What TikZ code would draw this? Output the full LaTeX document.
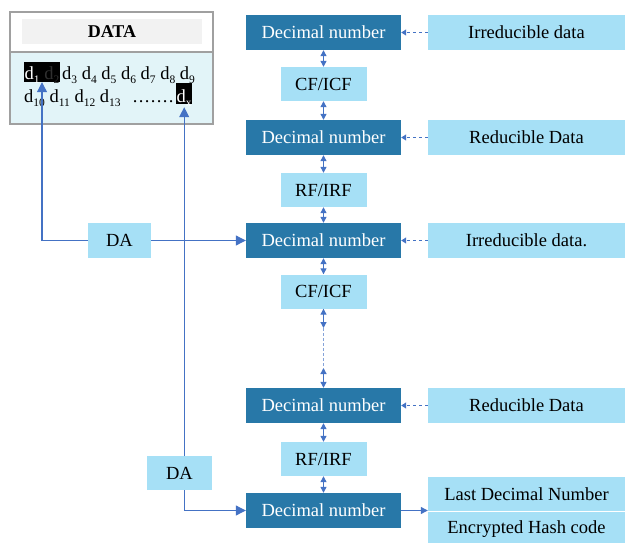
\documentclass[tikz,border=0pt]{standalone}
\usepackage{fontspec}
\setmainfont{Liberation Serif}
\usetikzlibrary{arrows.meta}

\definecolor{decblue}{RGB}{40,120,168}
\definecolor{lightcyan}{RGB}{166,224,246}
\definecolor{linkblue}{RGB}{68,114,196}
\definecolor{datafill}{RGB}{226,244,248}
\definecolor{headgray}{RGB}{242,242,242}
\definecolor{framegray}{RGB}{160,160,160}
\definecolor{hidden}{RGB}{48,48,48}

% indexed data element: d with a small lowered index
\newcommand{\dd}[1]{d\raisebox{-0.22em}{\fontsize{11.5}{12}\selectfont #1}}

\begin{document}
\begin{tikzpicture}[x=1pt,y=-1pt,
  every node/.style={inner sep=0pt, font=\fontsize{18.5}{22}\selectfont},
  decbox/.style={fill=decblue, text=white, minimum width=155pt, minimum height=35pt},
  opbox/.style={fill=lightcyan, minimum width=86pt, minimum height=34pt},
  srcbox/.style={fill=lightcyan, minimum width=197pt, minimum height=35pt},
  dabox/.style={fill=lightcyan, minimum height=35pt},
  hilite/.style={fill=black, text=white, inner xsep=0.5pt},
  dbl/.style={draw=linkblue, line width=1.2pt,
    {Triangle[length=6pt,width=6pt]}-{Triangle[length=6pt,width=6pt]}},
  feed/.style={draw=linkblue, line width=1.1pt, dash pattern=on 3pt off 3pt,
    -{Triangle[length=5pt,width=6pt]}},
  flow/.style={draw=linkblue, line width=1.1pt, -{Triangle[length=10pt,width=10pt]}},
  outflow/.style={draw=linkblue, line width=1.1pt, -{Triangle[length=7pt,width=7pt]}},
]
\useasboundingbox (0,0) rectangle (625,542);
\clip (0,0) rectangle (625,542);

% data block
\fill[datafill] (10,52) rectangle (213,124);
\fill[white] (10,12) rectangle (213,52);
\fill[headgray] (22,19) rectangle (202,44);
\node[font=\fontsize{18}{22}\selectfont\bfseries] (datatitle) at (112,31.5) {DATA};
\draw[framegray, line width=1.5pt] (10,12) rectangle (213,124);
\draw[framegray, line width=1.5pt] (10,52) -- (213,52);

\node[hilite, anchor=base west, text height=17pt, text depth=3pt] (d12) at (24,79)
  {\dd{1} \textcolor{hidden}{\dd{2}}};
\node[anchor=base west] (row1) at (62,79) {\dd{3} \dd{4} \dd{5} \dd{6} \dd{7} \dd{8} \dd{9}};
\node[anchor=base west] (row2) at (24,102)
  {\makebox[152pt][l]{\dd{10} \dd{11} \dd{12} \dd{13}\hfill\leaders\hbox to 6pt{\hss.\hss}\hskip 48pt}};
\node[hilite, anchor=base west, text height=19pt, text depth=2pt] (dx) at (176,102) {\dd{x}};

% main chain
\node[decbox] (dec1) at (323.5,32.5) {Decimal number};
\node[opbox]  (op1)  at (323.5,84)   {CF/ICF};
\node[decbox] (dec2) at (323.5,137.5) {Decimal number};
\node[opbox]  (op2)  at (323.5,190)  {RF/IRF};
\node[decbox] (dec3) at (323.5,240.5) {Decimal number};
\node[opbox]  (op3)  at (323.5,291.5) {CF/ICF};
\node[decbox] (dec4) at (323.5,405.5) {Decimal number};
\node[opbox]  (op4)  at (323.5,459)  {RF/IRF};
\node[decbox] (dec5) at (323.5,510.5) {Decimal number};

% inputs on the right
\node[srcbox] (src1) at (526.5,32.5)  {Irreducible data};
\node[srcbox] (src2) at (526.5,137.5) {Reducible Data};
\node[srcbox] (src3) at (526.5,240.5) {Irreducible data.};
\node[srcbox] (src4) at (526.5,405.5) {Reducible Data};

% outputs
\node[srcbox, minimum height=34pt] (last) at (526.5,494) {Last Decimal Number};
\node[srcbox, minimum height=34pt] (hash) at (526.5,529) {Encrypted Hash code};

% DA blocks
\node[dabox, minimum width=63pt] (da1) at (119.5,240.5) {DA};
\node[dabox, minimum width=65pt, minimum height=34pt] (da2) at (179.5,473) {DA};

% chain connectors
\draw[dbl] (dec1.south) -- (op1.north);
\draw[dbl] (op1.south) -- (dec2.north);
\draw[dbl] (dec2.south) -- (op2.north);
\draw[dbl] (op2.south) -- (dec3.north);
\draw[dbl] (dec3.south) -- (op3.north);
\coordinate (gapA) at (323.5,328);
\coordinate (gapB) at (323.5,368);
\draw[dbl] (op3.south) -- (gapA);
\draw[linkblue!65, line width=1.1pt, dash pattern=on 3pt off 2pt] (gapA) -- (gapB);
\draw[dbl] (gapB) -- (dec4.north);
\draw[dbl] (dec4.south) -- (op4.north);
\draw[dbl] (op4.south) -- (dec5.north);

% inputs feeding the chain
\draw[feed] (src1.west) -- (dec1.east);
\draw[feed] (src2.west) -- (dec2.east);
\draw[feed] (src3.west) -- (dec3.east);
\draw[feed] (src4.west) -- (dec4.east);

% DA links
\draw[flow] (da1.west) -| (d12.south);
\draw[flow] (da1.east) -- (dec3.west);
\draw[flow, shorten >=3pt] (dx.south |- da2.north) -- (dx.south);
\draw[flow] (dx.south |- da2.south) |- (dec5.west);
\draw[outflow] (dec5.east) -- (dec5.east -| last.west);
\end{tikzpicture}
\end{document}
